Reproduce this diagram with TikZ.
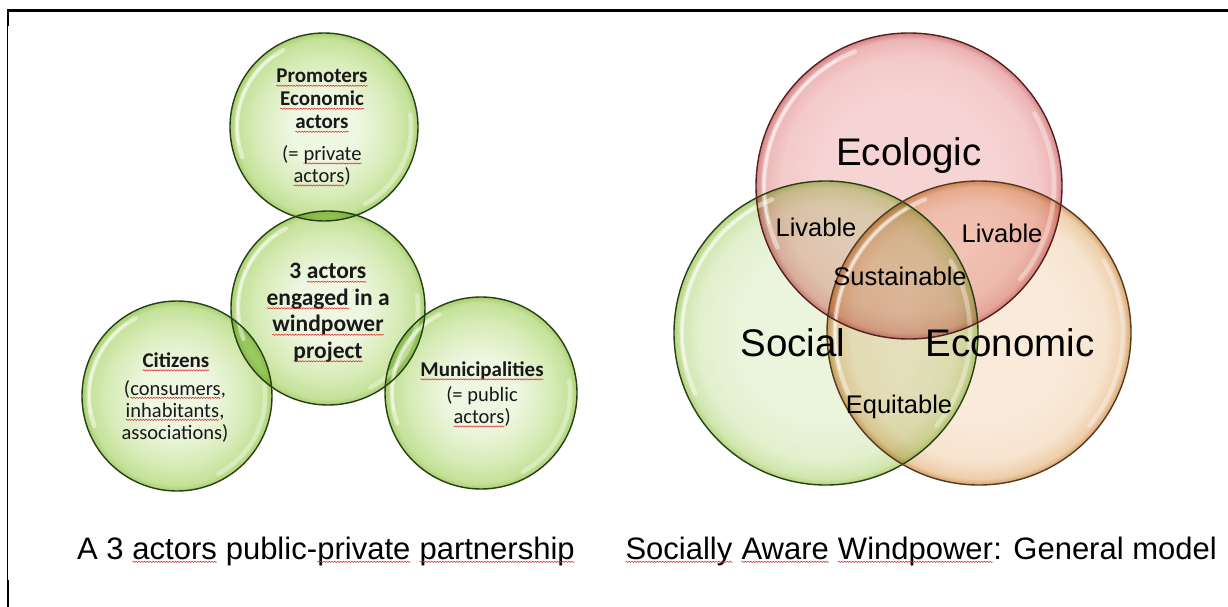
\documentclass[tikz,border=0pt]{standalone}
\usepackage{fontspec}
\setmainfont{Liberation Sans}
\newfontfamily\calib{Carlito}
\usetikzlibrary{decorations.pathmorphing}

\definecolor{gA}{RGB}{238,247,226}
\definecolor{gB}{RGB}{216,236,185}
\definecolor{gC}{RGB}{196,225,152}
\definecolor{gD}{RGB}{168,207,110}
\definecolor{sA}{RGB}{234,245,220}
\definecolor{sB}{RGB}{226,240,206}
\definecolor{sC}{RGB}{208,230,172}
\definecolor{sD}{RGB}{178,211,125}
\definecolor{eA}{RGB}{247,212,212}
\definecolor{eB}{RGB}{244,202,202}
\definecolor{eC}{RGB}{236,180,180}
\definecolor{eD}{RGB}{212,132,132}
\definecolor{oA}{RGB}{249,234,218}
\definecolor{oB}{RGB}{247,228,208}
\definecolor{oC}{RGB}{238,206,170}
\definecolor{oD}{RGB}{214,162,110}
\definecolor{gline}{RGB}{40,62,22}
\definecolor{eline}{RGB}{85,32,32}
\definecolor{oline}{RGB}{85,58,30}
\definecolor{spell}{RGB}{225,40,40}
\definecolor{ink}{RGB}{25,25,25}

\pgfdeclareradialshading{greenball}{\pgfpoint{0bp}{0bp}}{color(0bp)=(gA); color(9bp)=(gA); color(18bp)=(gB); color(23.5bp)=(gC); color(25bp)=(gD); color(50bp)=(gD)}
\pgfdeclareradialshading{socball}{\pgfpoint{0bp}{0bp}}{color(0bp)=(sA); color(14bp)=(sA); color(21bp)=(sB); color(24bp)=(sC); color(25bp)=(sD); color(50bp)=(sD)}
\pgfdeclareradialshading{ecoball}{\pgfpoint{0bp}{0bp}}{color(0bp)=(eA); color(14bp)=(eA); color(21bp)=(eB); color(24bp)=(eC); color(25bp)=(eD); color(50bp)=(eD)}
\pgfdeclareradialshading{econball}{\pgfpoint{0bp}{0bp}}{color(0bp)=(oA); color(14bp)=(oA); color(21bp)=(oB); color(24bp)=(oC); color(25bp)=(oD); color(50bp)=(oD)}

\tikzset{
  wavyline/.style={draw=spell, line width=0.55pt, decorate,
    decoration={snake, amplitude=0.6pt, segment length=2.8pt}},
  ballfill/.style={shading=#1, blend mode=multiply},
  hilite/.style={draw=white, line width=4.5pt, line cap=round, opacity=0.45},
  hilitecore/.style={draw=white, line width=1.6pt, line cap=round, opacity=0.55},
  ballline/.style={draw=#1, line width=1.4pt},
  boldtxt/.style={text=ink, align=center, font=\calib\bfseries\fontsize{21}{23}\selectfont},
  bigbold/.style={text=ink, align=center, font=\calib\bfseries\fontsize{23.5}{26.5}\selectfont},
  regtxt/.style={text=ink, align=center, font=\calib\fontsize{20.5}{22}\selectfont},
  venbig/.style={text=black, font=\fontsize{38.5}{40}\selectfont},
  vensmall/.style={text=black, font=\fontsize{25.5}{28}\selectfont},
  caption/.style={text=black, font=\fontsize{31}{34}\selectfont},
}

\newcommand\wavy[1]{\tikz[baseline=(W.base)]{\node[rectangle,draw=none,fill=none,inner sep=0pt,outer sep=0pt,anchor=base](W) at (0,0){#1};\draw[wavyline]([yshift=-2.8pt]W.base west)--([yshift=-2.8pt]W.base east);}}

\begin{document}
\begin{tikzpicture}[x=1pt,y=1pt]
\useasboundingbox (0,0) rectangle (1228,-607);
\fill[white] (0,0) rectangle (1228,-607);

% frame
\draw[line width=3pt] (7,-10.5) -- (1228,-10.5);
\draw[line width=1pt] (7.5,-10) -- (7.5,-607);
\draw[line width=2.5pt] (8,-10) -- (8,-26);
\draw[line width=2.5pt] (8,-580) -- (8,-607);

% ---------- left diagram ----------
\coordinate (P) at (324,-127);
\coordinate (C) at (328,-308);
\coordinate (Z) at (177,-396);
\coordinate (M) at (481,-393);

\path[ballfill=greenball] (P) circle[radius=94];
\path[ballfill=greenball] (C) circle[radius=97];
\path[ballfill=greenball] (Z) circle[radius=95];
\path[ballfill=greenball] (M) circle[radius=96];

\foreach \c/\r in {P/94,C/97,Z/95,M/96}{
  \pgfmathsetmacro{\rr}{\r-7}
  \draw[hilite] ([shift={(118:\rr)}]\c) arc[start angle=118,end angle=200,radius=\rr];
  \draw[hilitecore] ([shift={(125:\rr)}]\c) arc[start angle=125,end angle=192,radius=\rr];
  \draw[hilite,opacity=0.35] ([shift={(-62:\rr)}]\c) arc[start angle=-62,end angle=8,radius=\rr];
}

\draw[ballline=gline] (P) circle[radius=94];
\draw[ballline=gline] (C) circle[radius=97];
\draw[ballline=gline] (Z) circle[radius=95];
\draw[ballline=gline] (M) circle[radius=96];

\node[boldtxt] (ptitle) at (322,-101) {\wavy{Promoters}\\\wavy{Economic}\\\wavy{actors}};
\node[regtxt] (psub) at (322,-166) {(= \wavy{private}\\\wavy{actors})};
\node[bigbold] (ctitle) at (328,-313) {3 \wavy{actors}\\\wavy{engaged} in a\\\wavy{windpower}\\\wavy{project}};
\node[boldtxt] (ztitle) at (176,-362) {\wavy{Citizens}};
\node[regtxt] (zsub) at (175,-411) {(\wavy{consumers},\\\wavy{inhabitants},\\associations)};
\node[boldtxt] (mtitle) at (482,-371) {\wavy{Municipalities}};
\node[regtxt] (msub) at (482,-407) {(= public\\\wavy{actors})};

\node[caption] (lcap) at (326,-551) {A 3 \wavy{actors} public-\wavy{private} \wavy{partnership}};

% ---------- right diagram ----------
\coordinate (E) at (909,-186);
\coordinate (S) at (826,-333);
\coordinate (N) at (979,-333);

\path[ballfill=socball] (S) circle[radius=152];
\path[ballfill=econball] (N) circle[radius=152];
\path[ballfill=ecoball] (E) circle[radius=153];

\foreach \c/\r in {E/153,S/152,N/152}{
  \pgfmathsetmacro{\rr}{\r-8}
  \draw[hilite] ([shift={(112:\rr)}]\c) arc[start angle=112,end angle=205,radius=\rr];
  \draw[hilitecore] ([shift={(120:\rr)}]\c) arc[start angle=120,end angle=195,radius=\rr];
  \draw[hilite,opacity=0.35] ([shift={(-40:\rr)}]\c) arc[start angle=-40,end angle=30,radius=\rr];
}

\draw[ballline=gline] (S) circle[radius=152];
\draw[ballline=oline] (N) circle[radius=152];
\draw[ballline=eline] (E) circle[radius=153];

\node[venbig] (teco) at (909,-156) {Ecologic};
\node[venbig] (tsoc) at (793,-343) {Social};
\node[venbig] (tecn) at (1010,-343) {Economic};
\node[vensmall] (liv1) at (816,-227) {Livable};
\node[vensmall] (liv2) at (1002,-233) {Livable};
\node[vensmall] (sus) at (900,-276) {Sustainable};
\node[vensmall] (equ) at (899,-407) {Equitable};

\node[caption] (rcap) at (921,-551) {\wavy{Socially} \wavy{Aware} \wavy{Windpower}: General model};
\end{tikzpicture}
\end{document}
